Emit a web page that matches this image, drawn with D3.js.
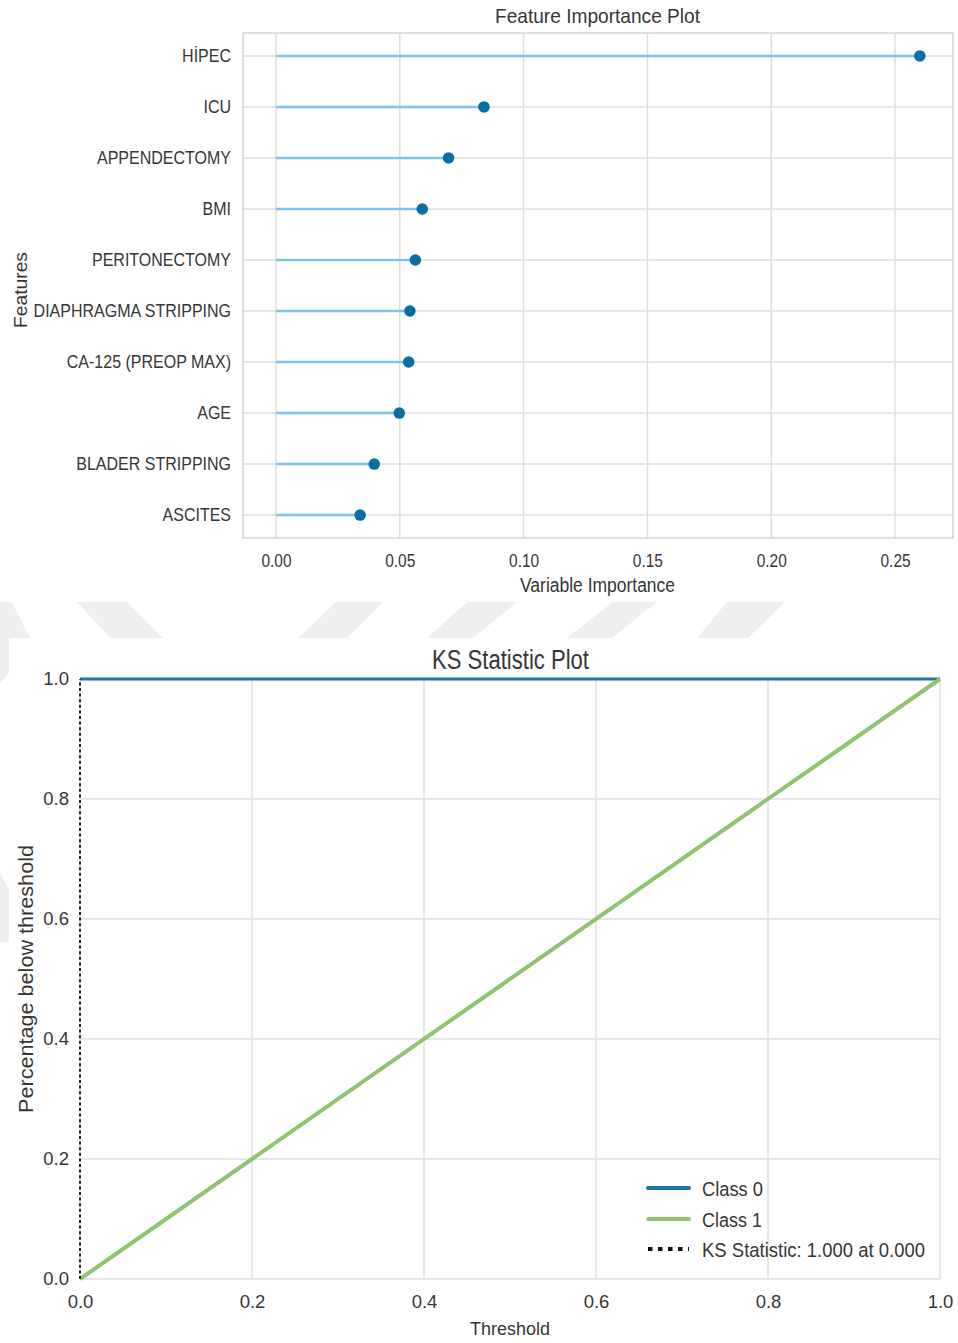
<!DOCTYPE html>
<html>
<head>
<meta charset="utf-8">
<script src="https://cdn.jsdelivr.net/npm/d3@7"></script>
<style>
  html, body { margin: 0; padding: 0; background: #ffffff; }
  svg { display: block; }
  text { font-family: "Liberation Sans", Arial, sans-serif; fill: #363636; }
</style>
</head>
<body>
<svg id="chart" width="958" height="1343"></svg>
<script>
// ---------- Feature importance data ----------
const features = ["HİPEC", "ICU", "APPENDECTOMY", "BMI", "PERITONECTOMY",
  "DIAPHRAGMA STRIPPING", "CA-125 (PREOP MAX)", "AGE", "BLADER STRIPPING", "ASCITES"];
const importance = [0.260, 0.084, 0.0697, 0.0591, 0.0563, 0.0541, 0.0536, 0.0498, 0.0397, 0.0340];
const fiTicks = [0.00, 0.05, 0.10, 0.15, 0.20, 0.25];
const fiTickLabels = ["0.00", "0.05", "0.10", "0.15", "0.20", "0.25"];

// ---------- KS statistic data ----------
const thresholds = [0.0, 1.0];
const class0 = [1.0, 1.0];
const class1 = [0.0, 1.0];
const ksValue = 1.000;
const ksAt = 0.000;
const ksTicks = [0.0, 0.2, 0.4, 0.6, 0.8, 1.0];
const ksTickLabels = ["0.0", "0.2", "0.4", "0.6", "0.8", "1.0"];
const legendLabels = ["Class 0", "Class 1", "KS Statistic: " + ksValue.toFixed(3) + " at " + ksAt.toFixed(3)];

const svg = d3.select("#chart");
const GRID = "#dedede";
const FRAME = "#d6d6d6";

function label(g, x, y, str, size, len, anchor, rot) {
  const t = g.append("text")
    .attr("transform", `translate(${x},${y})` + (rot ? ` rotate(${rot})` : ""))
    .attr("text-anchor", anchor || "middle")
    .style("font-size", size + "px")
    .text(str);
  if (len) t.attr("textLength", len).attr("lengthAdjust", "spacingAndGlyphs");
  return t;
}

// ---------- Watermark fragments ----------
const wm = [
  [[0,602],[12,602],[30,638],[0,638]],
  [[0,638],[9,638],[9,672],[0,684]],
  [[0,873],[9,890],[9,942],[0,942]],
  [[77,602],[127,602],[163,638],[110,638]],
  [[336,602],[383,602],[347,638],[298,638]],
  [[467,602],[517,602],[473,638],[427,638]],
  [[613,602],[657,602],[612,638],[567,638]],
  [[727,602],[785,602],[748,638],[697,638]]
];
svg.append("g").selectAll("polygon").data(wm).join("polygon")
  .attr("points", d => d.map(p => p.join(",")).join(" "))
  .attr("fill", "#efefef");

// =============== Feature Importance Plot ===============
{
  const L = 243, R = 953, T = 33, B = 538;
  const x = d3.scaleLinear().domain([-0.0133, 0.2734]).range([L, R]);
  const y = d3.scalePoint().domain(features).range([T, B]).padding(0.45);
  const g = svg.append("g");

  // grid
  g.append("g").selectAll("line.v").data(fiTicks).join("line")
    .attr("x1", d => x(d)).attr("x2", d => x(d)).attr("y1", T).attr("y2", B)
    .attr("stroke", GRID).attr("stroke-width", 1.5);
  g.append("g").selectAll("line.h").data(features).join("line")
    .attr("x1", L).attr("x2", R).attr("y1", d => y(d)).attr("y2", d => y(d))
    .attr("stroke", GRID).attr("stroke-width", 1.5);
  g.append("rect").attr("x", L).attr("y", T).attr("width", R - L).attr("height", B - T)
    .attr("fill", "none").attr("stroke", FRAME).attr("stroke-width", 1.6);

  // stems
  g.append("g").selectAll("line").data(features).join("line")
    .attr("x1", x(0)).attr("x2", (d, i) => x(importance[i]))
    .attr("y1", d => y(d)).attr("y2", d => y(d))
    .attr("stroke", "#7cc4ea").attr("stroke-width", 2.6);
  // dots
  g.append("g").selectAll("circle").data(features).join("circle")
    .attr("cx", (d, i) => x(importance[i])).attr("cy", d => y(d)).attr("r", 5.8)
    .attr("fill", "#0a6ea4");

  // axes
  const ax = g.append("g").attr("transform", `translate(0,${B})`)
    .call(d3.axisBottom(x).tickValues(fiTicks).tickFormat((d, i) => fiTickLabels[i]).tickSize(0).tickPadding(16));
  ax.select(".domain").remove();
  ax.selectAll("text").style("font-size", "18px").style("font-family", null).attr("fill", null)
    .attr("transform", "scale(0.86,1)");

  const ay = g.append("g").attr("transform", `translate(${L},0)`)
    .call(d3.axisLeft(y).tickSize(0).tickPadding(13.7));
  ay.select(".domain").remove();
  ay.selectAll("text").style("font-size", "18.3px").style("font-family", null).attr("fill", null)
    .attr("transform", "scale(0.875,1)");

  label(g, 597.5, 23, "Feature Importance Plot", 21, 205);
  label(g, 597.5, 592, "Variable Importance", 19.5, 155);
  label(g, 27, 290, "Features", 19, 76, "middle", -90);
}

// =============== KS Statistic Plot ===============
{
  const L = 80, R = 940, T = 679, B = 1279;
  const x = d3.scaleLinear().domain([0, 1]).range([L, R]);
  const y = d3.scaleLinear().domain([0, 1]).range([B, T]);
  const g = svg.append("g");

  g.append("g").selectAll("line").data(ksTicks).join("line")
    .attr("x1", d => x(d)).attr("x2", d => x(d)).attr("y1", T).attr("y2", B)
    .attr("stroke", GRID).attr("stroke-width", 1.4);
  g.append("g").selectAll("line").data(ksTicks).join("line")
    .attr("x1", L).attr("x2", R).attr("y1", d => y(d)).attr("y2", d => y(d))
    .attr("stroke", GRID).attr("stroke-width", 1.4);

  const line = d3.line().x(d => x(d[0])).y(d => y(d[1]));
  const c0 = thresholds.map((t, i) => [t, class0[i]]);
  const c1 = thresholds.map((t, i) => [t, class1[i]]);

  g.append("path").datum(c0).attr("d", line).attr("fill", "none")
    .attr("stroke", "#1a76a8").attr("stroke-width", 3);
  g.append("path").datum(c1).attr("d", line).attr("fill", "none")
    .attr("stroke", "#8dc46d").attr("stroke-width", 4);
  g.append("line")
    .attr("x1", x(ksAt)).attr("x2", x(ksAt))
    .attr("y1", y(class1[0])).attr("y2", y(class0[0]))
    .attr("stroke", "#222").attr("stroke-width", 2).attr("stroke-dasharray", "3,2.6");

  const ax = g.append("g").attr("transform", `translate(0,${B})`)
    .call(d3.axisBottom(x).tickValues(ksTicks).tickFormat((d, i) => ksTickLabels[i]).tickSize(0).tickPadding(16));
  ax.select(".domain").remove();
  ax.selectAll("text").style("font-size", "18.5px").style("font-family", null).attr("fill", null);

  const ay = g.append("g").attr("transform", `translate(${L},0)`)
    .call(d3.axisLeft(y).tickValues(ksTicks).tickFormat((d, i) => ksTickLabels[i]).tickSize(0).tickPadding(11));
  ay.select(".domain").remove();
  ay.selectAll("text").style("font-size", "18.5px").style("font-family", null).attr("fill", null);

  label(g, 510.5, 669, "KS Statistic Plot", 27, 157);
  label(g, 510, 1335, "Threshold", 19, 80);
  label(g, 33, 979, "Percentage below threshold", 20, 268, "middle", -90);

  // legend
  const lg = g.append("g");
  const ly = [1188, 1219, 1249];
  const styles = [
    { stroke: "#1a76a8", w: 4, dash: null },
    { stroke: "#8dc46d", w: 4, dash: null },
    { stroke: "#111", w: 4, dash: "4.5,5.5" }
  ];
  const lens = [61, 60, 223];
  legendLabels.forEach((t, i) => {
    lg.append("line").attr("x1", 648).attr("x2", 689).attr("y1", ly[i]).attr("y2", ly[i])
      .attr("stroke", styles[i].stroke).attr("stroke-width", styles[i].w)
      .attr("stroke-linecap", styles[i].dash ? "butt" : "round")
      .attr("stroke-dasharray", styles[i].dash);
    label(lg, 702, ly[i] + 8, t, 20.5, lens[i], "start");
  });
}
</script>
</body>
</html>
